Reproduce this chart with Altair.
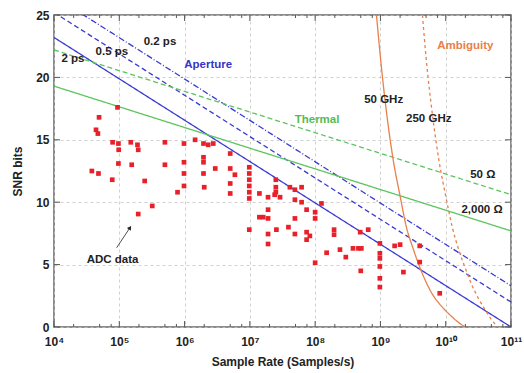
import altair as alt
import pandas as pd

# ---------------- data ----------------
x_ticks = [1e4, 1e5, 1e6, 1e7, 1e8, 1e9, 1e10, 1e11]
x_tick_labels = ["10⁴", "10⁵", "10⁶", "10⁷", "10⁸", "10⁹", "10¹⁰", "10¹¹"]
x_minor = [m * d for d in [1e4, 1e5, 1e6, 1e7, 1e8, 1e9, 1e10] for m in (2, 5, 7.5)]
y_ticks = [0, 5, 10, 15, 20, 25]

# straight reference lines (value at 1e4 and at 1e11)
line_names = ["2 ps", "0.5 ps", "0.2 ps", "50 Ω", "2,000 Ω"]
line_x = [[1e4, 1e11]] * 5
line_y = [[23.2, 0.0], [25.2, 2.0], [26.5, 3.3], [22.2, 10.6], [19.3, 7.7]]

# ambiguity curves
amb50_x = [8.7e8, 1.0e9, 1.26e9, 1.58e9, 2.0e9, 2.5e9, 3.16e9, 4.0e9, 5.0e9, 6.3e9, 7.9e9, 1.0e10, 1.26e10, 1.58e10, 2.0e10]
amb50_y = [25, 21.6, 16.9, 13.3, 10.5, 8.0, 6.3, 4.8, 3.6, 2.6, 1.9, 1.3, 0.8, 0.35, 0]
amb250_x = [4.4e9, 5.0e9, 6.3e9, 7.9e9, 1.0e10, 1.26e10, 1.58e10, 2.0e10, 2.5e10, 3.16e10, 4.0e10, 5.0e10, 6.3e10]
amb250_y = [25, 21.6, 16.9, 13.3, 10.5, 8.0, 6.2, 4.7, 3.4, 2.3, 1.4, 0.6, 0]

# ADC data
adc_rate = [9.4e4, 4.9e4, 4.4e4, 4.7e4, 7.9e4, 9.7e4, 9.8e4, 1.5e5, 1.9e5, 1.95e5,
            5.0e5, 9.8e5, 9.7e4, 1.55e5, 5.0e5, 9.8e5, 3.8e4, 4.8e4, 7.8e4, 2.45e5,
            9.8e5, 9.8e5, 7.8e5, 3.2e5, 1.95e5, 1.45e6, 1.95e6, 2.3e6, 2.75e6, 1.95e6,
            1.95e6, 1.95e6, 2.0e6, 2.95e6, 5.0e6, 5.0e6, 5.9e6, 5.0e6, 5.0e6, 9.8e6,
            9.8e6, 9.8e6, 9.8e6, 9.8e6, 9.8e6, 9.8e6, 1.4e7, 1.9e7, 2.4e7, 2.9e7,
            2.5e7, 2.5e7, 2.5e7, 1.9e7, 1.9e7, 1.6e7, 1.4e7, 2.55e7, 1.9e7, 1.9e7,
            3.9e7, 4.9e7, 4.9e7, 4.1e7, 4.9e7, 6.2e7, 4.9e7, 6.2e7, 7.4e7, 7.4e7,
            7.4e7, 8.3e7, 1.0e8, 1.0e8, 1.25e8, 1.0e8, 1.5e8, 1.95e8, 1.95e8, 2.4e8,
            2.95e8, 3.8e8, 4.6e8, 5.1e8, 4.9e8, 6.5e8, 5.0e8, 9.8e8, 9.8e8, 9.8e8,
            9.8e8, 9.8e8, 9.8e8, 1.65e9, 2.0e9, 2.25e9, 4.0e9, 4.0e9, 8.1e9]
adc_snr = [17.6, 16.8, 15.8, 15.5, 14.8, 14.7, 14.2, 14.8, 14.6, 14.2,
           14.8, 14.7, 13.1, 13.0, 13.0, 13.2, 12.5, 12.3, 11.8, 11.7,
           12.3, 11.3, 10.8, 9.7, 9.05, 15.0, 14.7, 14.6, 14.7, 13.6,
           13.2, 12.3, 11.2, 12.7, 13.9, 12.7, 12.2, 11.5, 10.7, 12.8,
           12.3, 11.8, 11.3, 10.8, 10.3, 7.8, 10.7, 10.4, 10.6, 10.4,
           11.8, 11.2, 10.8, 9.4, 8.7, 8.8, 8.8, 7.8, 7.45, 6.65,
           8.0, 7.45, 8.7, 11.2, 11.0, 11.2, 10.2, 10.0, 9.4, 7.6,
           7.0, 7.3, 9.2, 8.7, 9.9, 5.15, 5.95, 7.8, 7.4, 6.2,
           5.6, 6.3, 6.3, 6.3, 7.6, 7.8, 4.5, 6.7, 5.9, 5.5,
           4.85, 3.9, 3.2, 6.5, 6.6, 4.4, 6.5, 5.2, 2.7]

# annotations
ann_text = ["2 ps", "0.5 ps", "0.2 ps", "Aperture", "Thermal", "50 GHz", "250 GHz",
            "Ambiguity", "50 Ω", "2,000 Ω", "ADC data"]
ann_x = [1.95e4, 7.7e4, 4.2e5, 2.3e6, 1.07e8, 1.12e9, 5.5e9, 2.0e10, 3.7e10, 3.6e10, 7.9e4]
ann_y = [21.5, 22.0, 22.8, 21.0, 16.6, 18.2, 16.7, 22.5, 12.2, 9.4, 5.4]
ann_color = ["#222222", "#222222", "#222222", "#3535c8", "#55bb55", "#222222", "#222222",
             "#e8804a", "#222222", "#222222", "#222222"]

arrow_x = [9.1e4, 1.46e5]
arrow_y = [6.35, 7.96]

# ---------------- frames ----------------
rows = []
for n, xs_, ys_ in zip(line_names, line_x, line_y):
    for a, b in zip(xs_, ys_):
        rows.append({"series": n, "x": a, "y": b})
for a, b in zip(amb50_x, amb50_y):
    rows.append({"series": "50 GHz", "x": a, "y": b})
for a, b in zip(amb250_x, amb250_y):
    rows.append({"series": "250 GHz", "x": a, "y": b})
lines_df = pd.DataFrame(rows)
adc_df = pd.DataFrame({"x": adc_rate, "y": adc_snr})
ann_df = pd.DataFrame({"t": ann_text, "x": ann_x, "y": ann_y, "c": ann_color})
arrow_df = pd.DataFrame({"x": arrow_x, "y": arrow_y})
arrow_head = arrow_df.iloc[[1]]
xt_df = pd.DataFrame({"x": x_ticks})
xm_df = pd.DataFrame({"x": x_minor})
yt_df = pd.DataFrame({"y": y_ticks})

W, H = 457, 312
FONT = "Liberation Sans"
xs = alt.Scale(type="log", domain=[1e4, 1e11], nice=False)
ys = alt.Scale(domain=[0, 25], nice=False, zero=False)

label_expr = "[" + ",".join("'%s'" % s for s in x_tick_labels) + "][round(log(datum.value)/LN10)-4]"

x_main = alt.Axis(values=x_ticks, labelExpr=label_expr, ticks=False, domain=False,
                  grid=True, gridDash=[3, 3], gridColor="#c4c4c4", gridWidth=0.8,
                  labelFont=FONT, labelFontSize=12, labelFontWeight="bold", labelColor="#222",
                  labelPadding=9, title="Sample Rate (Samples/s)", titleFont=FONT,
                  titleFontSize=12, titleFontWeight="bold", titleColor="#222", titlePadding=9,
                  labelFlush=False)
y_main = alt.Axis(values=y_ticks, ticks=False, domain=False, grid=True, gridDash=[3, 3],
                  gridColor="#c4c4c4", gridWidth=0.8, labelFont=FONT, labelFontSize=12,
                  labelFontWeight="bold", labelColor="#222", labelPadding=5,
                  title="SNR bits", titleFont=FONT, titleFontSize=12, titleFontWeight="bold",
                  titleColor="#222", titlePadding=11)

series_order = ["2 ps", "0.5 ps", "0.2 ps", "50 Ω", "2,000 Ω", "50 GHz", "250 GHz"]
series_color = ["#3a3ad2", "#3a3ad2", "#3a3ad2", "#5cc45c", "#5cc45c", "#e8804a", "#e8804a"]
series_dash = [[1, 0], [5, 3], [6, 2, 1, 2], [5, 3], [1, 0], [1, 0], [3, 3]]


def X(field="x:Q"):
    return alt.X(field, scale=xs, axis=x_main)


def Y(field="y:Q"):
    return alt.Y(field, scale=ys, axis=y_main)


lines = alt.Chart(lines_df).mark_line(clip=True, strokeWidth=1.3, interpolate="monotone").encode(
    x=X(), y=Y(),
    detail="series:N",
    color=alt.Color("series:N", scale=alt.Scale(domain=series_order, range=series_color), legend=None),
    strokeDash=alt.StrokeDash("series:N", scale=alt.Scale(domain=series_order, range=series_dash), legend=None),
)

pts = alt.Chart(adc_df).mark_square(size=22, color="#e8202a", opacity=1, clip=True).encode(
    x=X(), y=Y(),
)

txt = alt.Chart(ann_df).mark_text(font=FONT, fontSize=11.5, fontWeight="bold",
                                  align="center", baseline="middle").encode(
    x=X(), y=Y(),
    text="t:N",
    color=alt.Color("c:N", scale=None),
)

arrow = alt.Chart(arrow_df).mark_line(color="#222", strokeWidth=0.8).encode(
    x=X(), y=Y(),
)

head = alt.Chart(arrow_head).mark_point(shape="triangle-up", angle=34, size=22, filled=True,
                                        color="#222", opacity=1).encode(
    x=X(), y=Y(),
)

TICKC = "#555"


def xtick_layer(df, ypos, size, off):
    return alt.Chart(df).mark_tick(orient="vertical", size=size, thickness=1, color=TICKC,
                                   opacity=1, yOffset=off).encode(
        x=X(),
        y=alt.YDatum(ypos, scale=ys, axis=y_main),
    )


def ytick_layer(df, xpos, size, off):
    return alt.Chart(df).mark_tick(orient="horizontal", size=size, thickness=1, color=TICKC,
                                   opacity=1, xOffset=off).encode(
        y=Y(),
        x=alt.XDatum(xpos, scale=xs, axis=x_main),
    )

ticks = [
    xtick_layer(xt_df, 0, 6, -3), xtick_layer(xt_df, 25, 6, 3),
    xtick_layer(xm_df, 0, 3, -1.5), xtick_layer(xm_df, 25, 3, 1.5),
    ytick_layer(yt_df, 1e4, 6, 3), ytick_layer(yt_df, 1e11, 6, -3),
]

chart = alt.layer(lines, pts, txt, arrow, head, *ticks).properties(
    width=W, height=H,
    autosize=alt.AutoSizeParams(type="none"),
    padding={"left": 54, "top": 15, "right": 13, "bottom": 46},
    background="white",
).configure_view(stroke="#666", strokeWidth=1.5)

chart.save("out.html", embed_options={"renderer": "svg", "actions": False})
